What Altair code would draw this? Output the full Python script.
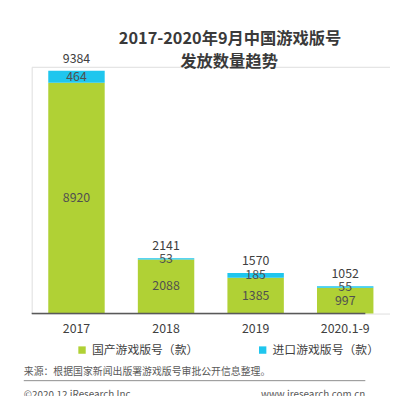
import altair as alt
import pandas as pd

years = ["2017", "2018", "2019", "2020.1-9"]
domestic = [8920, 2088, 1385, 997]
imported = [464, 53, 185, 55]
totals = [9384, 2141, 1570, 1052]
series_names = ["国产游戏版号（款）", "进口游戏版号（款）"]
colors = ["#b0d135", "#1fc6ee"]

title_lines = ["2017-2020年9月中国游戏版号", "发放数量趋势"]
source_text = "来源：根据国家新闻出版署游戏版号审批公开信息整理。"
copyright_text = "©2020.12 iResearch Inc."
site_text = "www.iresearch.com.cn"

FONT = "Noto Sans CJK SC"
W, H = 363, 250

rows = []
for i, yr in enumerate(years):
    rows.append({"year": yr, "series": series_names[0], "value": domestic[i], "ord": 0,
                 "mid": domestic[i] / 2})
    rows.append({"year": yr, "series": series_names[1], "value": imported[i], "ord": 1,
                 "mid": domestic[i] + imported[i] / 2})
df = pd.DataFrame(rows)
tot = pd.DataFrame({"year": years, "total": totals})

xenc = alt.X("year:N", sort=years,
             scale=alt.Scale(paddingInner=0.37, paddingOuter=0.185),
             axis=alt.Axis(title=None, domain=False, ticks=False, labelAngle=0,
                           labelFont=FONT, labelFontSize=12.5, labelColor="#404040",
                           labelPadding=9, grid=False))
yscale = alt.Scale(domain=[0, 9537], nice=False)

bars = alt.Chart(df).mark_bar().encode(
    x=xenc,
    y=alt.Y("value:Q", stack="zero", scale=yscale, axis=None),
    color=alt.Color("series:N", sort=series_names,
                    scale=alt.Scale(domain=series_names, range=colors),
                    legend=alt.Legend(title=None, orient="none", direction="horizontal",
                                      legendX=45, legendY=281, symbolType="square",
                                      symbolSize=56, symbolStrokeWidth=0,
                                      labelFont=FONT, labelFontSize=12,
                                      labelColor="#404040", columnPadding=58,
                                      labelOffset=4, padding=0)),
    order=alt.Order("ord:Q"),
)

inner = alt.Chart(df).mark_text(font=FONT, fontSize=12.5, color="#505050",
                                baseline="middle").encode(
    x=alt.X("year:N", sort=years),
    y=alt.Y("mid:Q", scale=yscale),
    text=alt.Text("value:Q", format="d"),
)

top = alt.Chart(tot).mark_text(font=FONT, fontSize=12.5, color="#404040",
                               baseline="bottom", dy=-5).encode(
    x=alt.X("year:N", sort=years),
    y=alt.Y("total:Q", scale=yscale),
    text=alt.Text("total:Q", format="d"),
)

axis_line = alt.Chart(pd.DataFrame({"a": [0]})).mark_rule(color="#595959", strokeWidth=1.5).encode(
    x=alt.value(0), x2=alt.value(338), y=alt.value(H)
)

one = pd.DataFrame({"a": [0]})
t1 = alt.Chart(one).mark_text(text=title_lines[0], font=FONT, fontSize=16.5, fontWeight="bold",
                              color="#3a3a3a", align="center", baseline="middle").encode(
    x=alt.value(201), y=alt.value(-28))
t2 = alt.Chart(one).mark_text(text=title_lines[1], font=FONT, fontSize=16.5, fontWeight="bold",
                              color="#3a3a3a", align="center", baseline="middle").encode(
    x=alt.value(200), y=alt.value(-5))
src = alt.Chart(one).mark_text(text=source_text, font=FONT, fontSize=10, color="#595959",
                               align="left", baseline="middle").encode(
    x=alt.value(-8), y=alt.value(309))
sep = alt.Chart(one).mark_rule(color="#8c8c8c", strokeWidth=1).encode(
    x=alt.value(-8), x2=alt.value(338), y=alt.value(318))
cp = alt.Chart(one).mark_text(text=copyright_text, font=FONT, fontSize=10, color="#595959",
                              align="left", baseline="top").encode(
    x=alt.value(-8), y=alt.value(328))
site = alt.Chart(one).mark_text(text=site_text, font=FONT, fontSize=10, color="#595959",
                                align="right", baseline="top").encode(
    x=alt.value(338), y=alt.value(328))

chart = alt.layer(bars, inner, top, axis_line, t1, t2, src, sep, cp, site).properties(
    width=W, height=H,
    autosize=alt.AutoSizeParams(type="none"),
    padding={"left": 24, "top": 57, "right": 0, "bottom": 82},
).configure_view(stroke=None).configure(background="white")

chart.save("out.html", embed_options={"renderer": "svg", "actions": False})
